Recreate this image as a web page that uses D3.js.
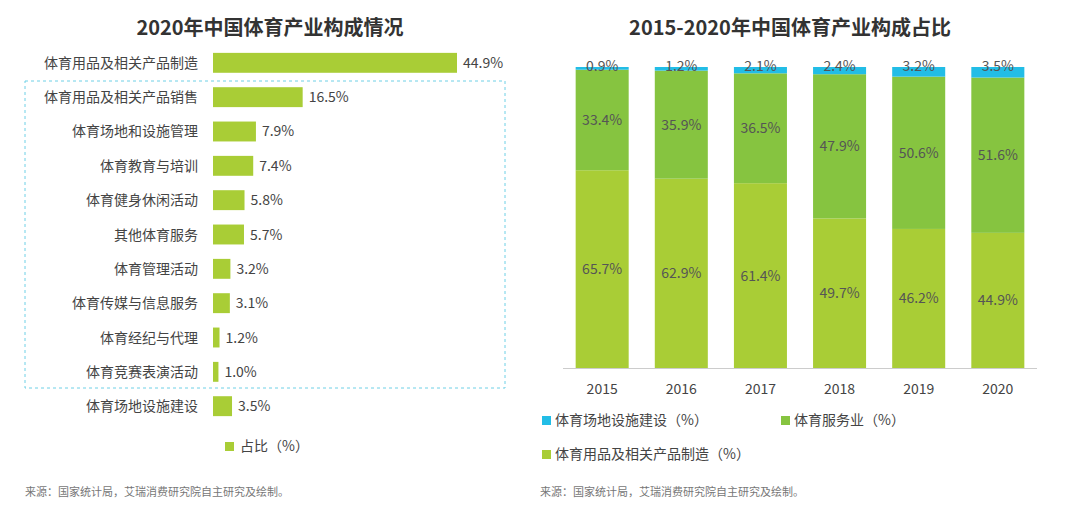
<!DOCTYPE html>
<html><head><meta charset="utf-8">
<script src="https://cdn.jsdelivr.net/npm/d3@7"></script>
<style>body{margin:0;background:#fff;font-family:"Noto Sans CJK SC","Noto Sans",sans-serif;}</style>
</head><body>
<svg id="c" width="1080" height="505"></svg>
<script>
var cats = ["体育用品及相关产品制造","体育用品及相关产品销售","体育场地和设施管理","体育教育与培训","体育健身休闲活动","其他体育服务","体育管理活动","体育传媒与信息服务","体育经纪与代理","体育竞赛表演活动","体育场地设施建设"];
var shares = [44.9,16.5,7.9,7.4,5.8,5.7,3.2,3.1,1.2,1.0,3.5];
var years = ["2015","2016","2017","2018","2019","2020"];
var manuf = [65.7,62.9,61.4,49.7,46.2,44.9];
var service = [33.4,35.9,36.5,47.9,50.6,51.6];
var venue = [0.9,1.2,2.1,2.4,3.2,3.5];

var lime = "#a9cd36", green = "#86c440", cyan = "#22bde6", txt = "#555";
var svg = d3.select("#c");

// left chart
svg.append("text").attr("x",270).attr("y",35).attr("text-anchor","middle")
  .attr("font-size",20).attr("font-weight","bold").attr("fill","#333").text("2020年中国体育产业构成情况");
var x = d3.scaleLinear().domain([0,44.9]).range([213,457]);
var y = d3.scaleBand().domain(cats).range([46,423]).paddingInner(0.42).paddingOuter(0.2);
svg.append("rect").attr("x",25).attr("y",81).attr("width",480).attr("height",307)
  .attr("fill","none").attr("stroke","#6fd0e6").attr("stroke-dasharray","3,3");
var g = svg.append("g");
g.selectAll("rect.b").data(cats).enter().append("rect").attr("class","b")
  .attr("x",x(0)).attr("y",function(d){return y(d);}).attr("height",y.bandwidth())
  .attr("width",function(d,i){return x(shares[i])-x(0);}).attr("fill",lime);
g.selectAll("text.c").data(cats).enter().append("text").attr("class","c")
  .attr("x",198).attr("y",function(d){return y(d)+y.bandwidth()/2+5;})
  .attr("text-anchor","end").attr("font-size",14).attr("fill","#444").text(function(d){return d;});
g.selectAll("text.v").data(cats).enter().append("text").attr("class","v")
  .attr("x",function(d,i){return x(shares[i])+6;}).attr("y",function(d){return y(d)+y.bandwidth()/2+5;})
  .attr("font-size",14).attr("fill","#444").text(function(d,i){return shares[i].toFixed(1)+"%";});
svg.append("rect").attr("x",225).attr("y",442).attr("width",9).attr("height",9).attr("fill",lime);
svg.append("text").attr("x",240).attr("y",451).attr("font-size",14).attr("fill","#444").text("占比（%）");
svg.append("text").attr("x",25).attr("y",496).attr("font-size",11).attr("fill","#777").text("来源：国家统计局，艾瑞消费研究院自主研究及绘制。");

// right chart
svg.append("text").attr("x",790).attr("y",35).attr("text-anchor","middle")
  .attr("font-size",20).attr("font-weight","bold").attr("fill","#333").text("2015-2020年中国体育产业构成占比");
var xb = d3.scaleBand().domain(years).range([563,1037]).paddingInner(0.33).paddingOuter(0.16);
var yb = d3.scaleLinear().domain([0,100]).range([368,67]);
var series = [{v:manuf,c:lime},{v:service,c:green},{v:venue,c:cyan}];
years.forEach(function(yr,i){
  var base = 0;
  series.forEach(function(s){
    var v = s.v[i];
    svg.append("rect").attr("x",xb(yr)).attr("width",xb.bandwidth())
      .attr("y",yb(base+v)).attr("height",yb(base)-yb(base+v)).attr("fill",s.c);
    var ty = s.c===cyan ? yb(base+v)+4 : (yb(base)+yb(base+v))/2+5;
    svg.append("text").attr("x",xb(yr)+xb.bandwidth()/2).attr("y",ty).attr("text-anchor","middle")
      .attr("font-size",14).attr("fill",txt).text(v.toFixed(1)+"%");
    base += v;
  });
});
svg.append("line").attr("x1",563).attr("x2",1037).attr("y1",368.5).attr("y2",368.5).attr("stroke","#ccc");
svg.selectAll("text.yr").data(years).enter().append("text").attr("class","yr")
  .attr("x",function(d){return xb(d)+xb.bandwidth()/2;}).attr("y",394).attr("text-anchor","middle")
  .attr("font-size",14).attr("fill","#444").text(function(d){return d;});
var leg = [{t:"体育场地设施建设（%）",c:cyan,x:542,y:425},{t:"体育服务业（%）",c:green,x:781,y:425},{t:"体育用品及相关产品制造（%）",c:lime,x:542,y:459}];
leg.forEach(function(l){
  svg.append("rect").attr("x",l.x).attr("y",l.y-9).attr("width",9).attr("height",9).attr("fill",l.c);
  svg.append("text").attr("x",l.x+13).attr("y",l.y).attr("font-size",14).attr("fill","#444").text(l.t);
});
svg.append("text").attr("x",540).attr("y",496).attr("font-size",11).attr("fill","#777").text("来源：国家统计局，艾瑞消费研究院自主研究及绘制。");
</script>
</body></html>
